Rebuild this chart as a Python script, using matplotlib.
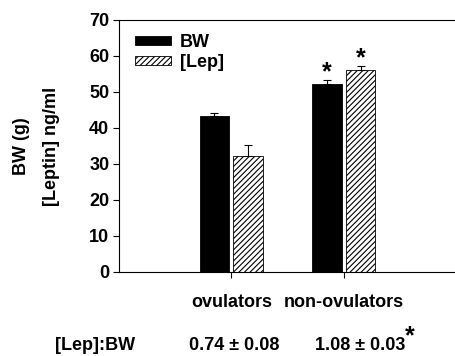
import matplotlib
matplotlib.use("Agg")
import matplotlib.pyplot as plt
import numpy as np

plt.rcParams['font.family'] = ['Liberation Sans', 'DejaVu Sans']
plt.rcParams['font.weight'] = 'bold'
plt.rcParams['axes.labelweight'] = 'bold'
plt.rcParams['hatch.linewidth'] = 0.8

groups = ["ovulators", "non-ovulators"]
bw = [43.3, 52.1]
bw_err = [0.9, 1.3]
lep = [32.1, 56.1]
lep_err = [3.3, 1.2]
ratios = ["0.74 \u00b1 0.08", "1.08 \u00b1 0.03"]

fs = 13
fig = plt.figure(figsize=(4.56, 3.56), dpi=100)
ax = fig.add_axes([119 / 456, 1 - 272 / 356, 1 - 119 / 456, 252 / 356])

x = np.array([1, 2])
w = 0.265
gap = 0.018
ax.bar(x - w / 2 - gap, bw, w, color="black", edgecolor="black", linewidth=0.6,
       yerr=[[0, 0], bw_err], error_kw=dict(ecolor="black", elinewidth=0.8, capsize=3, capthick=0.8),
       label="BW")
ax.bar(x + w / 2 + gap, lep, w, color="white", edgecolor="black", linewidth=0.6, hatch="//////",
       yerr=[[0, 0], lep_err], error_kw=dict(ecolor="black", elinewidth=0.8, capsize=3, capthick=0.8),
       label="[Lep]")

# significance stars
ax.text(2 - w / 2 - gap, bw[1] + bw_err[1] - 1.2, "*", ha="center", va="bottom", fontsize=18)
ax.text(2 + w / 2 + gap, lep[1] + lep_err[1] - 1.2, "*", ha="center", va="bottom", fontsize=18)

ax.set_xlim(0, 3)
ax.set_ylim(0, 70)
ax.set_yticks(range(0, 71, 10))
ax.set_xticks(x)
ax.set_xticklabels(groups, fontsize=fs)
ax.tick_params(axis="x", length=4, pad=12)
ax.tick_params(axis="y", length=4, labelsize=fs, pad=3)
ax.spines["right"].set_visible(False)
for s in ax.spines.values():
    s.set_linewidth(0.8)

ax.set_ylabel("BW (g)\n[Leptin] ng/ml", fontsize=fs, labelpad=21, linespacing=2.0)

ax.legend(loc="upper left", bbox_to_anchor=((135 - 119) / 337, 0.946), frameon=False, fontsize=fs,
          borderpad=0, borderaxespad=0,
          handlelength=2.0, handleheight=0.4, handletextpad=0.5, labelspacing=0.2)

fig.text(95 / 456, 1 - 346 / 356, "[Lep]:BW", ha="center", va="center", fontsize=fs)
fig.text(234 / 456, 1 - 346 / 356, ratios[0], ha="center", va="center", fontsize=fs)
fig.text(360 / 456, 1 - 346 / 356, ratios[1], ha="center", va="center", fontsize=fs)
fig.text(410 / 456, 1 - 336 / 356, "*", ha="center", va="center", fontsize=18)

fig.savefig("out.png", dpi=100)
